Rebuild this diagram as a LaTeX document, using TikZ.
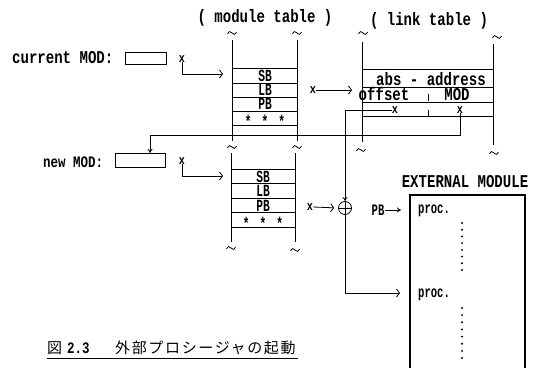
\documentclass[tikz,border=0pt]{standalone}
\usepackage{fontspec}
\usetikzlibrary{arrows.meta}
\newfontfamily\monof[FakeStretch=0.78]{Liberation Mono}
\newfontfamily\monoc[FakeStretch=0.66]{Liberation Mono}
\newfontfamily\jpf[LetterSpace=11]{Noto Sans CJK JP}
\tikzset{
  ln/.style={line width=0.8pt},
  barb/.style={-{Straight Barb[length=3pt,width=8pt,line width=0.8pt]}},
  arr/.style={-{To[length=4pt,width=5pt,line width=0.8pt]}},
  lbl/.style={inner sep=0pt,font=\monof\bfseries\fontsize{18}{18}\selectfont},
  smlbl/.style={inner sep=0pt,font=\monoc\bfseries\fontsize{16}{16}\selectfont},
  celltxt/.style={inner sep=0pt,anchor=base,text height=10pt,text depth=0pt,
                  font=\monoc\bfseries\fontsize{17}{17}\selectfont},
  rowtxt/.style={lbl,anchor=base,text height=10pt,text depth=0pt},
  xm/.style={inner sep=0pt,text height=6pt,text depth=0pt,font=\monof\bfseries\fontsize{13}{13}\selectfont},
  mbox/.style={draw,line width=0.8pt,inner sep=0pt},
  tld/.pic={\draw[line width=0.8pt] (-4.5,1) .. controls (-3,-2) and (-1.5,-2) .. (0,0)
            .. controls (1.5,2) and (3,2) .. (4.5,-1);},
}
\newcommand{\stars}{*\hspace{10pt}*\hspace{10pt}*}
\begin{document}
\begin{tikzpicture}[x=1pt,y=-1pt]
\useasboundingbox (0,0) rectangle (534,367);

% titles
\node[lbl] (tmod) at (265,18) {( module table )};
\node[lbl] (tlink) at (429,21) {( link table )};

% current MOD
\node[lbl,anchor=west] (curl) at (12,58) {current MOD:};
\node[mbox,minimum width=41pt,minimum height=12pt] (curbox) at (145.5,58) {};
\node[xm] (xc) at (182,59) {x};
\coordinate (ta1) at (223,74);
\draw[ln,barb] (xc.south) |- (ta1);

% upper module table
\coordinate (u1t) at (232,40); \coordinate (u1b) at (232,141);
\coordinate (u2t) at (297,40); \coordinate (u2b) at (297,141);
\draw[ln] (u1t) -- (u1b);
\draw[ln] (u2t) -- (u2b);
\foreach \yy in {68,83,97,111,125} \draw[ln] (232,\yy) -- (297,\yy);
\node[celltxt] (sb1) at (265,81.5) {SB};
\node[celltxt] (lb1) at (265,95.5) {LB};
\node[celltxt] (pb1) at (265,109.5) {PB};
\node[celltxt] (st1) at (265,127.5) {\stars};
\pic at (232,33) {tld};
\pic at (297,33) {tld};
\pic at (232,147) {tld};
\pic at (297,147) {tld};

% arrow to link table
\node[xm] (xu) at (313,90) {x};
\coordinate (ta2) at (352,90);
\draw[ln,barb] (xu.east) -- (ta2);

% link table
\coordinate (k1t) at (362,42); \coordinate (k1b) at (362,142);
\coordinate (k2t) at (493,44); \coordinate (k2b) at (493,145);
\draw[ln] (k1t) -- (k1b);
\draw[ln] (k2t) -- (k2b);
\foreach \yy in {69,87,102,116} \draw[ln] (362,\yy) -- (493,\yy);
\node[rowtxt] (abst) at (431,85.5) {abs - address};
\node[rowtxt] (offt) at (384,100.5) {offset};
\node[rowtxt] (modt) at (457,100.5) {MOD};
\coordinate (tk1a) at (428,94); \coordinate (tk1b) at (428,101);
\coordinate (tk2a) at (428,110); \coordinate (tk2b) at (428,116);
\draw[ln] (tk1a) -- (tk1b);
\draw[ln] (tk2a) -- (tk2b);
\node[xm] (xo) at (395,110) {x};
\node[xm] (xmod) at (460,110) {x};
\pic at (363,33) {tld};
\pic at (497,37) {tld};
\pic at (361,150) {tld};
\pic at (494,153) {tld};

% new MOD
\node[lbl,anchor=west,font=\monof\bfseries\fontsize{16}{16}\selectfont] (newl) at (43,162) {new MOD:};
\node[mbox,minimum width=50pt,minimum height=14pt] (newbox) at (140,160) {};
\node[xm] (xn) at (182,161) {x};
\coordinate (ta3) at (223,176);
\draw[ln,barb] (xn.south) |- (ta3);

% MOD -> new MOD
\coordinate (jm) at (460,135);
\coordinate (jl) at (150,135);
\coordinate (nb) at (150,153);
\draw[ln] (xmod.south) -- (jm) -- (jl);
\draw[ln,arr] (jl) -- (nb);

% lower module table
\coordinate (l1t) at (231,153); \coordinate (l1b) at (231,242);
\coordinate (l2t) at (295,153); \coordinate (l2b) at (295,242);
\draw[ln] (l1t) -- (l1b);
\draw[ln] (l2t) -- (l2b);
\foreach \yy in {169,183.5,198,212.5,227} \draw[ln] (231,\yy) -- (295,\yy);
\node[celltxt] (sb2) at (263,182) {SB};
\node[celltxt] (lb2) at (263,196.5) {LB};
\node[celltxt] (pb2) at (263,211) {PB};
\node[celltxt] (st2) at (263,229) {\stars};
\pic at (231,248) {tld};
\pic at (295,250) {tld};

% oplus
\node[circle,draw,line width=0.8pt,minimum size=13pt,inner sep=0pt] (op) at (345,208) {};
\draw[ln] (op.north) -- (op.south);
\draw[ln] (op.west) -- (op.east);
\coordinate (jo) at (345,110);
\draw[ln] (xo.west) -- (jo);
\draw[ln,arr] (jo) -- (op.north);
\node[xm] (xl) at (310,207) {x};
\draw[ln,barb,shorten >=4pt] (xl.east) -- (op.west);

% external module
\node[lbl] (extt) at (465,182) {EXTERNAL MODULE};
\coordinate (eb1) at (410,370); \coordinate (et1) at (410,195);
\coordinate (et2) at (525,195); \coordinate (eb2) at (525,370);
\draw[line width=1.6pt] (eb1) -- (et1) -- (et2) -- (eb2);
\node[smlbl] (pbt) at (378,210) {PB};
\coordinate (pbe) at (401,210);
\draw[ln,arr] (pbt.east) -- (pbe);
\node[smlbl] (proc1) at (434,211) {proc.};
\node[smlbl] (proc2) at (434,295) {proc.};
\coordinate (p2) at (400,293);
\draw[ln,barb] (op.south) |- (p2);
\foreach \yy in {223,229.7,236.4,243.1,249.9,256.6,263.3,270} \fill (462,\yy) circle (1.1pt);
\foreach \yy in {308,315.1,322.3,329.4,336.6,343.7,350.9,358} \fill (462,\yy) circle (1.1pt);

% caption
\node[inner sep=0pt,anchor=west,font=\jpf\fontsize{15}{15}\selectfont] (cap1) at (47,348) {図};
\node[inner sep=0pt,anchor=west,font=\monof\bfseries\fontsize{16}{16}\selectfont] (cap2) at (67,348) {2.3};
\node[inner sep=0pt,anchor=west,font=\jpf\fontsize{15}{15}\selectfont] (cap3) at (115,348) {外部プロシージャの起動};
\coordinate (ul1) at (47,358); \coordinate (ul2) at (298,358);
\draw[ln] (ul1) -- (ul2);
\end{tikzpicture}
\end{document}
